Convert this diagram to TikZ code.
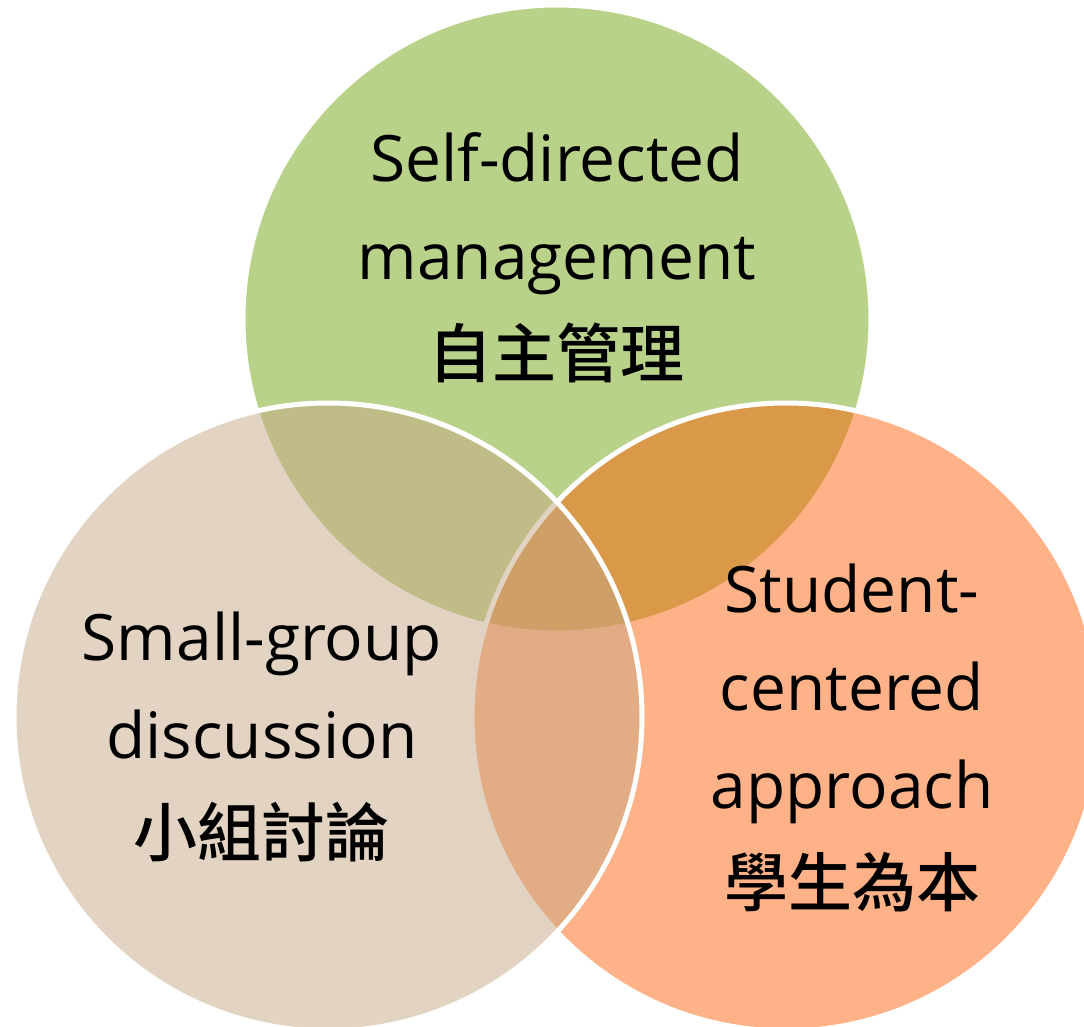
\documentclass[tikz,border=0pt]{standalone}
\usepackage{fontspec}
\setmainfont{Open Sans}
\newfontfamily\cjk{Noto Sans CJK TC Medium}
\definecolor{setgreen}{RGB}{185,210,138}
\definecolor{setorange}{RGB}{255,90,0}
\definecolor{settan}{RGB}{197,167,133}

\begin{document}
\begin{tikzpicture}[x=0.5pt,y=-0.5pt,
set/.style={circle,draw=white,line width=2.5pt,minimum size=314pt,inner sep=0pt},
label/.style={align=center,inner sep=0pt,font=\fontsize{32}{49}\selectfont}]
\useasboundingbox (0,0) rectangle (1084,1027);
% the three sets
\node[set,fill=setgreen] (self) at (557,319) {};
\node[set,fill=setorange,fill opacity=0.47] (student) at (786,717) {};
\node[set,fill=settan,fill opacity=0.5] (group) at (328,717) {};
% their names
\node[label] (selflabel) at (557,258) {Self-directed\\management\\{\cjk 自主管理}};
\node[label] (grouplabel) at (262,737) {Small-group\\discussion\\{\cjk 小組討論}};
\node[label] (studentlabel) at (852,738) {Student-\\centered\\approach\\{\cjk 學生為本}};
\end{tikzpicture}
\end{document}
